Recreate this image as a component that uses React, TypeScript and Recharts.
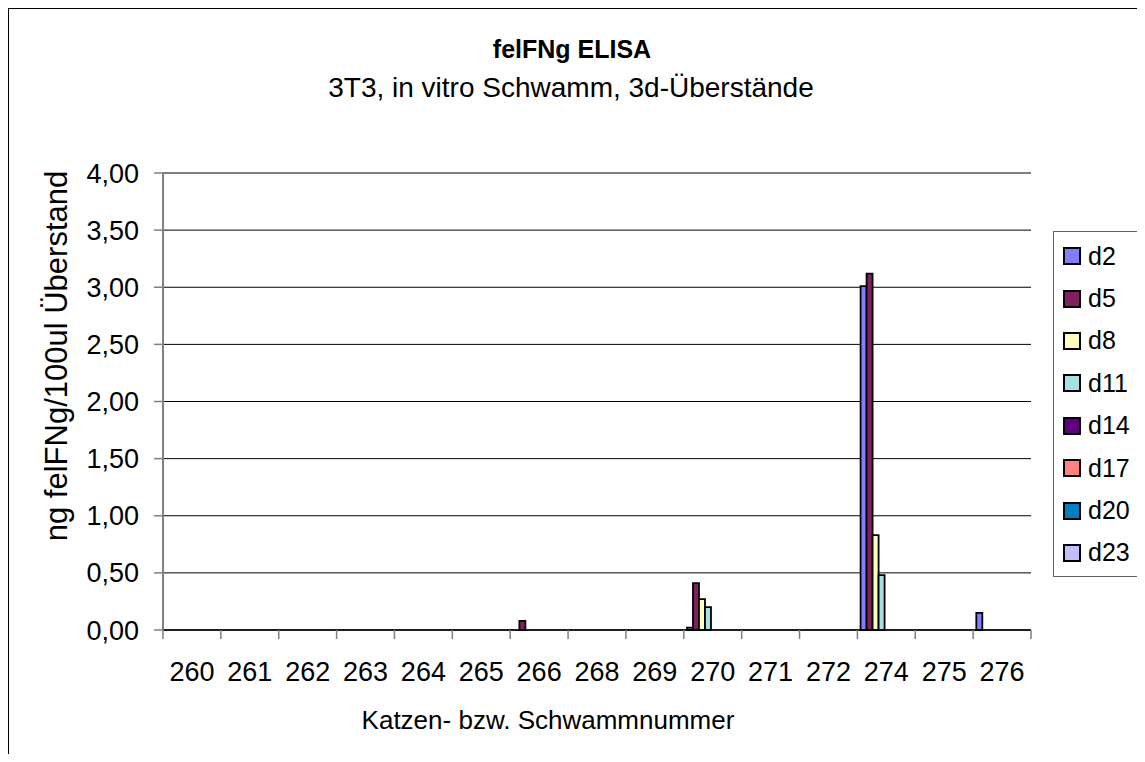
import React from 'react';
import { BarChart, Bar, XAxis, YAxis, CartesianGrid, Legend } from 'recharts';

// Katzen-/Schwammnummern
const categories = ['260', '261', '262', '263', '264', '265', '266', '268', '269', '270', '271', '272', '274', '275', '276'];

const seriesNames = ['d2', 'd5', 'd8', 'd11', 'd14', 'd17', 'd20', 'd23'];
const seriesColors = ['#8080FF', '#802060', '#FFFFC0', '#A6E0E0', '#600080', '#FF8080', '#0080C0', '#C0C0FF'];

// ng felFNg / 100ul, leere Zellen = null
const d2 = [null, null, null, null, null, null, null, null, null, 0.02, null, null, 3.01, null, 0.15];
const d5 = [null, null, null, null, null, null, 0.08, null, null, 0.41, null, null, 3.12, null, null];
const d8 = [null, null, null, null, null, null, null, null, null, 0.27, null, null, 0.83, null, null];
const d11 = [null, null, null, null, null, null, null, null, null, 0.2, null, null, 0.48, null, null];
const d14 = [null, null, null, null, null, null, null, null, null, null, null, null, null, null, null];
const d17 = [null, null, null, null, null, null, null, null, null, null, null, null, null, null, null];
const d20 = [null, null, null, null, null, null, null, null, null, null, null, null, null, null, null];
const d23 = [null, null, null, null, null, null, null, null, null, null, null, null, null, null, null];

const yTicks = [0, 0.5, 1, 1.5, 2, 2.5, 3, 3.5, 4];

const seriesValues = [d2, d5, d8, d11, d14, d17, d20, d23];
const data = categories.map((cat, i) => {
  const row: Record<string, string | number | null> = { cat };
  seriesNames.forEach((name, s) => {
    row[name] = seriesValues[s][i];
  });
  return row;
});

const FONT = '"Liberation Sans", Arial, sans-serif';
const W = 1136;
const H = 745;
const Y_AXIS_W = 154;
const RIGHT = 114;
const BAND = (W - Y_AXIS_W - RIGHT) / categories.length;

const XTick = (props: any) => {
  const { x, y, payload } = props;
  const idx = categories.indexOf(String(payload.value));
  const half = BAND / 2;
  return (
    <g>
      <line x1={x - half} x2={x - half} y1={y} y2={y + 9} stroke="#808080" strokeWidth={1.5} />
      {idx === categories.length - 1 && (
        <line x1={x + half} x2={x + half} y1={y} y2={y + 9} stroke="#808080" strokeWidth={1.5} />
      )}
      <text x={x} y={y + 42} dy="0.35em" textAnchor="middle" fontSize={27} fill="#000" fontFamily={FONT}>
        {payload.value}
      </text>
    </g>
  );
};

const LegendBox = (props: any) => {
  // keep the series order instead of the alphabetic default
  const payload = [...(props.payload || [])].sort(
    (a: any, b: any) => seriesNames.indexOf(a.value) - seriesNames.indexOf(b.value)
  );
  return (
    <div
      style={{
        width: 92,
        boxSizing: 'border-box',
        borderTop: '1px solid #606060',
        borderLeft: '1px solid #606060',
        borderBottom: '1px solid #606060',
        paddingTop: 3,
        paddingBottom: 2,
        background: '#fff',
        fontFamily: FONT,
      }}
    >
      {payload.map((entry: any) => (
        <div key={entry.value} style={{ height: 42.4, display: 'flex', alignItems: 'center', paddingLeft: 9 }}>
          <span
            style={{
              width: 14,
              height: 14,
              border: '2px solid #000',
              background: entry.color,
              display: 'inline-block',
            }}
          />
          <span style={{ fontSize: 25, marginLeft: 7, color: '#000', lineHeight: 1 }}>{entry.value}</span>
        </div>
      ))}
    </div>
  );
};

export default function App() {
  return (
    <div
      style={{
        position: 'relative',
        width: W,
        height: H,
        borderTop: '1px solid #000',
        borderLeft: '1px solid #000',
        background: '#fff',
        fontFamily: FONT,
      }}
    >
      <BarChart
        width={W}
        height={H}
        data={data}
        margin={{ top: 164, right: RIGHT, bottom: 0, left: 0 }}
        barGap={0}
        barCategoryGap="5.5%"
      >
        <CartesianGrid horizontal vertical={false} stroke="#000" strokeWidth={1} />
        <XAxis
          dataKey="cat"
          height={H - 164 - 457}
          interval={0}
          tickSize={0}
          tickMargin={0}
          tickLine={false}
          axisLine={{ stroke: '#000', strokeWidth: 1.5 }}
          tick={<XTick />}
        />
        <YAxis
          width={Y_AXIS_W}
          domain={[0, 4]}
          ticks={yTicks}
          interval={0}
          tickSize={9}
          tickMargin={15}
          axisLine={{ stroke: '#808080', strokeWidth: 2 }}
          tickLine={{ stroke: '#808080', strokeWidth: 1.5 }}
          tick={{ fontSize: 27, fill: '#000', fontFamily: FONT }}
          tickFormatter={(v: number) => v.toFixed(2).replace('.', ',')}
        />
        <Legend
          layout="vertical"
          align="center"
          verticalAlign="middle"
          content={<LegendBox />}
          wrapperStyle={{ left: 1044, top: 222, width: 92, right: 'auto', bottom: 'auto' }}
        />
        {seriesNames.map((name, s) => (
          <Bar
            key={name}
            dataKey={name}
            name={name}
            fill={seriesColors[s]}
            stroke="#000"
            strokeWidth={1.8}
            isAnimationActive={false}
          />
        ))}
      </BarChart>
      <svg
        width={W}
        height={H}
        style={{ position: 'absolute', left: 0, top: 0, pointerEvents: 'none' }}
        fontFamily={FONT}
      >
        <text x={563} y={49} textAnchor="middle" fontSize={25} fontWeight="bold" fill="#000">
          felFNg ELISA
        </text>
        <text x={562} y={88} textAnchor="middle" fontSize={28} fill="#000">
          3T3, in vitro Schwamm, 3d-Überstände
        </text>
        <text x={539} y={711} dy="0.35em" textAnchor="middle" fontSize={26} fill="#000">
          Katzen- bzw. Schwammnummer
        </text>
        <text
          x={47}
          y={347}
          dy="0.35em"
          textAnchor="middle"
          fontSize={31}
          fill="#000"
          transform="rotate(-90 47 347)"
        >
          ng felFNg/100ul Überstand
        </text>
      </svg>
    </div>
  );
}
